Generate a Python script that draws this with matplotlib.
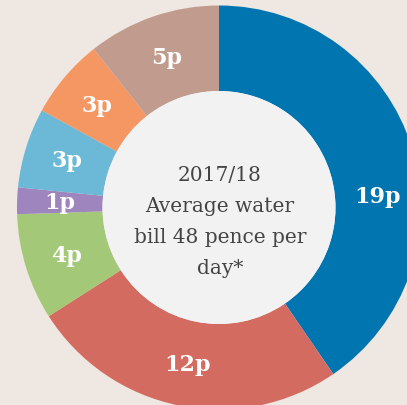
import numpy as np
import matplotlib.pyplot as plt
from matplotlib.patches import Circle

# data
labels = ['19p', '12p', '4p', '1p', '3p', '3p', '5p']
values = [19, 12, 4, 1, 3, 3, 5]
colors = ['#0075b0', '#d46b60', '#a3c878', '#9e85bd', '#6bb9d6', '#f59763', '#c29b8f']
center_lines = ['2017/18', 'Average water', 'bill 48 pence per', 'day*']

bg = '#efe7e2'
cx, cy = 219, 197.5
r_out, r_in = 202, 116.5

fig = plt.figure(figsize=(4.07, 4.06), dpi=100, facecolor=bg)
ax = fig.add_axes([0, 0, 1, 1])
ax.set_facecolor(bg)

wedges, _ = ax.pie(values, colors=colors, startangle=90, counterclock=False,
                   center=(cx, cy), radius=r_out,
                   wedgeprops=dict(width=r_out - r_in, linewidth=0))
ax.add_patch(Circle((cx, cy), r_in, facecolor='#f2f2f2', edgecolor='none'))

# labels in the middle of the ring
r_lab = (r_out + r_in) / 2
for i, w in enumerate(wedges):
    ang = (w.theta1 + w.theta2) / 2
    if i == 0:
        ang = 4  # 19p sits lower than the wedge middle
    x = cx + r_lab * np.cos(np.radians(ang))
    y = cy + r_lab * np.sin(np.radians(ang))
    ax.text(x, y, labels[i], ha='center', va='center', color='white',
            fontsize=16, fontweight='bold', family='DejaVu Serif')

# centre text
y0 = 406 - 176
for k, line in enumerate(center_lines):
    ax.text(cx + 1, y0 - 31 * k, line, ha='center', va='center', color='#444444',
            fontsize=14.5, family='DejaVu Serif')

ax.set_xlim(0, 407)
ax.set_ylim(0, 406)
ax.set_aspect('equal')
ax.axis('off')

fig.savefig('out.png', dpi=100, facecolor=bg)
